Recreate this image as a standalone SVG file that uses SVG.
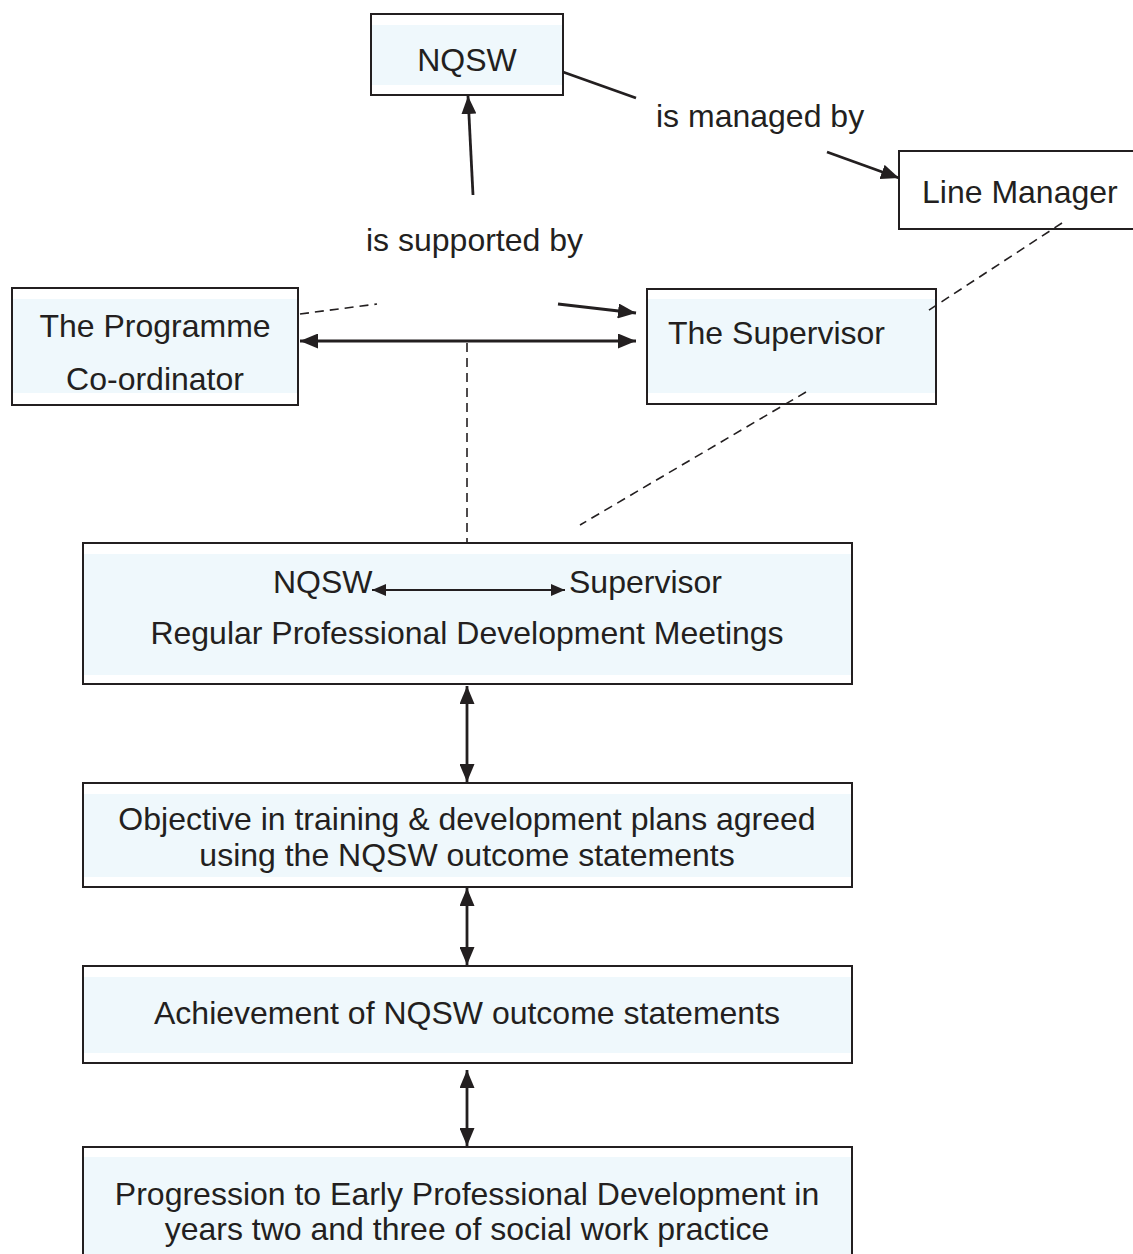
<svg xmlns="http://www.w3.org/2000/svg" width="1133" height="1254" viewBox="0 0 1133 1254">
<style>
.box{fill:#ffffff;stroke:#231f20;stroke-width:2}
.band{fill:#eff8fc;stroke:none}
.t{font-family:"Liberation Sans",Arial,Helvetica,sans-serif;font-size:32px;fill:#231f20}
.c{text-anchor:middle}
.solid{stroke:#231f20;stroke-width:2.8;fill:none}
.thin{stroke:#231f20;stroke-width:2.2;fill:none}
.dash{stroke:#231f20;stroke-width:1.6;fill:none;stroke-dasharray:9 6}
</style>
<defs>
<marker id="ah" viewBox="0 0 18 15" refX="18" refY="7.5" markerWidth="18" markerHeight="15" markerUnits="userSpaceOnUse" orient="auto-start-reverse">
<path d="M0,0 L18,7.5 L0,15 Z" fill="#231f20"/>
</marker>
<marker id="ahs" viewBox="0 0 14 12" refX="14" refY="6" markerWidth="14" markerHeight="12" markerUnits="userSpaceOnUse" orient="auto-start-reverse">
<path d="M0,0 L14,6 L0,12 Z" fill="#231f20"/>
</marker>
</defs>
<rect width="1133" height="1254" fill="#ffffff"/>

<g id="nqsw">
<rect class="box" x="371" y="14" width="192" height="81"/>
<rect class="band" x="372" y="25" width="190" height="60"/>
<text class="t c" x="467" y="71">NQSW</text>
</g>

<g id="line-manager">
<rect class="box" x="899" y="151" width="250" height="78"/>
<text class="t" x="922" y="203">Line Manager</text>
</g>

<g id="programme-coordinator">
<rect class="box" x="12" y="288" width="286" height="117"/>
<rect class="band" x="13" y="299" width="284" height="94"/>
<text class="t c" x="155" y="337">The Programme</text>
<text class="t c" x="155" y="390">Co-ordinator</text>
</g>

<g id="supervisor">
<rect class="box" x="647" y="289" width="289" height="115"/>
<rect class="band" x="648" y="299" width="287" height="94"/>
<text class="t" x="668" y="344">The Supervisor</text>
</g>

<g id="meetings">
<rect class="box" x="83" y="543" width="769" height="141"/>
<rect class="band" x="84" y="554" width="767" height="121"/>
<text class="t" x="273" y="593">NQSW</text>
<text class="t" x="569" y="593">Supervisor</text>
<text class="t c" x="467" y="644">Regular Professional Development Meetings</text>
</g>

<g id="objective">
<rect class="box" x="83" y="783" width="769" height="104"/>
<rect class="band" x="84" y="794" width="767" height="83"/>
<text class="t c" x="467" y="830">Objective in training &amp; development plans agreed</text>
<text class="t c" x="467" y="866">using the NQSW outcome statements</text>
</g>

<g id="achievement">
<rect class="box" x="83" y="966" width="769" height="97"/>
<rect class="band" x="84" y="977" width="767" height="76"/>
<text class="t c" x="467" y="1024">Achievement of NQSW outcome statements</text>
</g>

<g id="progression">
<rect class="box" x="83" y="1147" width="769" height="130"/>
<rect class="band" x="84" y="1157" width="767" height="110"/>
<text class="t c" x="467" y="1205">Progression to Early Professional Development in</text>
<text class="t c" x="467" y="1240">years two and three of social work practice</text>
</g>

<g id="labels">
<text class="t" x="656" y="127">is managed by</text>
<text class="t" x="366" y="251">is supported by</text>
</g>

<g id="connectors">
<line class="solid" x1="563" y1="72" x2="636" y2="98"/>
<line class="solid" x1="827" y1="152" x2="899" y2="178" marker-end="url(#ah)"/>
<line class="solid" x1="473" y1="195" x2="468" y2="96" marker-end="url(#ah)"/>
<line class="dash" x1="300" y1="314" x2="377" y2="304"/>
<line class="solid" x1="558" y1="304" x2="636" y2="313" marker-end="url(#ah)"/>
<line class="solid" x1="300" y1="341" x2="636" y2="341" marker-start="url(#ah)" marker-end="url(#ah)"/>
<line class="dash" x1="467" y1="343" x2="467" y2="543"/>
<line class="dash" x1="1062" y1="223" x2="926" y2="312"/>
<line class="dash" x1="806" y1="392" x2="580" y2="525"/>
<line class="thin" x1="372" y1="590" x2="565" y2="590" marker-start="url(#ahs)" marker-end="url(#ahs)"/>
<line class="solid" x1="467" y1="686" x2="467" y2="782" marker-start="url(#ah)" marker-end="url(#ah)"/>
<line class="solid" x1="467" y1="888" x2="467" y2="965" marker-start="url(#ah)" marker-end="url(#ah)"/>
<line class="solid" x1="467" y1="1070" x2="467" y2="1146" marker-start="url(#ah)" marker-end="url(#ah)"/>
</g>
</svg>
